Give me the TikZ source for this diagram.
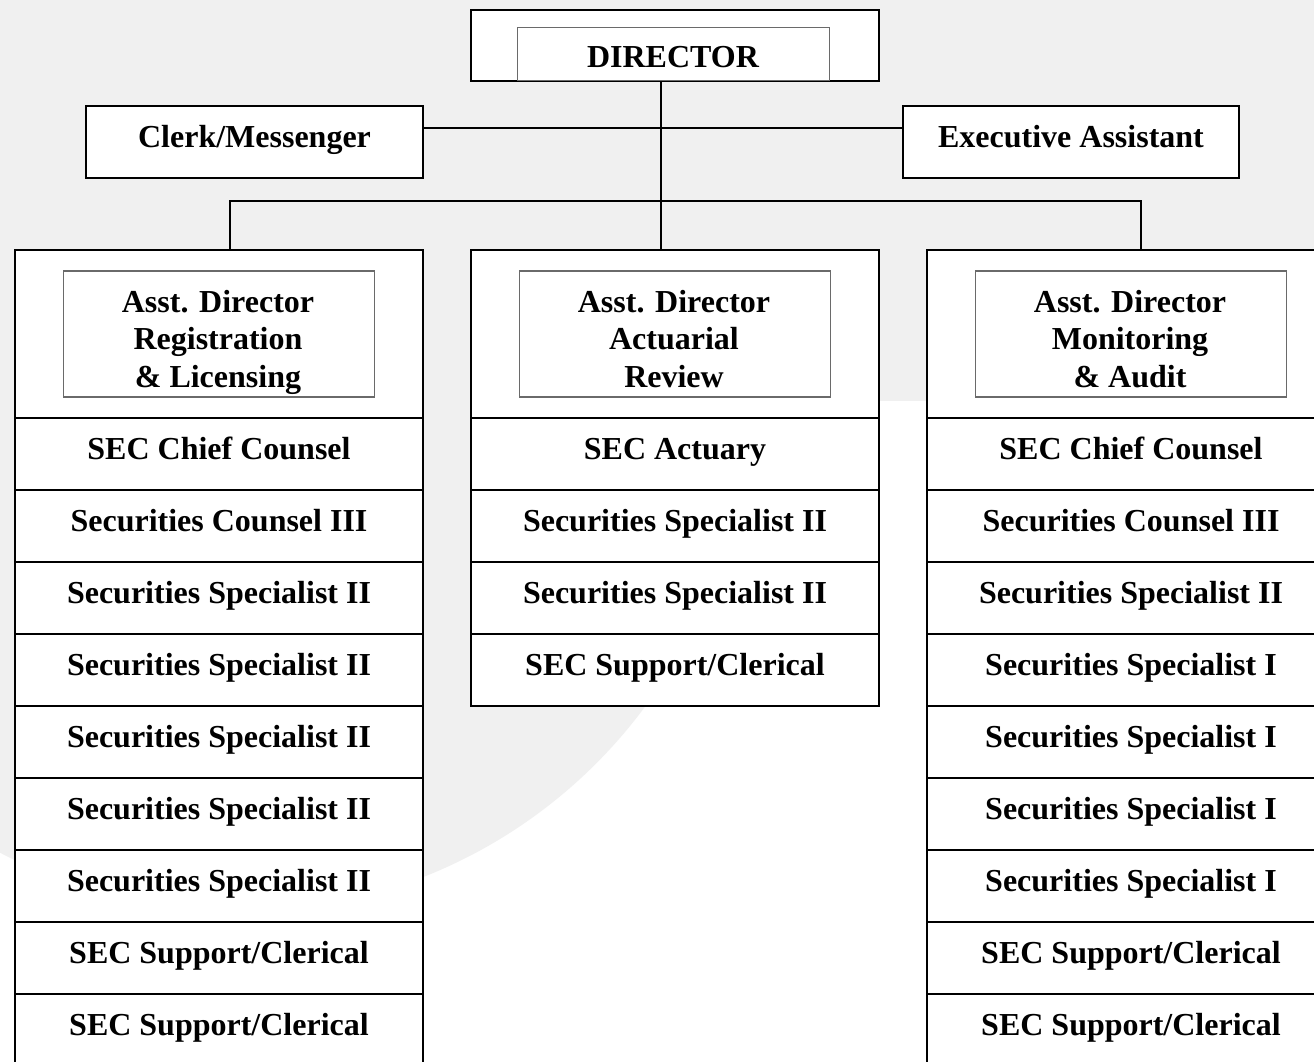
\documentclass[tikz,border=0pt]{standalone}
\usepackage{fontspec}
\setmainfont{Liberation Serif}
\usetikzlibrary{positioning, calc}

\definecolor{bggrey}{HTML}{F0F0F0}
\definecolor{framegrey}{HTML}{6A6A6A}
\newcommand{\orgfont}{\fontsize{32}{37.5}\selectfont\bfseries}

\begin{document}
\begin{tikzpicture}[x=1pt, y=-1pt,
    box/.style={draw, line width=2pt, fill=white, inner sep=0pt, anchor=north west,
        font=\orgfont, text height=21pt, text depth=11pt},
    cell/.style={box, minimum width=408pt, minimum height=72pt},
    frame/.style={draw=framegrey, line width=1.4pt, fill=white, inner sep=0pt},
    orgtext/.style={font=\orgfont, inner sep=0pt, align=center},
    wire/.style={line width=2pt}]

    % Draw the background
    \useasboundingbox (0,0) rectangle (1314,1061);
    \clip (0,0) rectangle (1314,1061);
    \fill[white] (0,0) rectangle (1314,1061);
    \fill[bggrey] (0,0) rectangle (1314,401);
    \fill[bggrey] (238,406) circle[radius=506];

    % Director
    \node[box, minimum width=408pt, minimum height=71pt] (director) at (470,9) {};
    \node[frame, anchor=north west, minimum width=312pt, minimum height=53pt] (dirframe) at (517,27) {};
    \node[orgtext, anchor=base] (dirtext) at (673,67) {DIRECTOR};

    % Staff beside the director
    \node[box, minimum width=337pt, minimum height=72pt] (clerk) at (85,105) {Clerk/Messenger};
    \node[box, minimum width=336pt, minimum height=72pt] (assistant) at (902,105) {Executive Assistant};

    % Column heads
    \foreach \col/\x/\txt in {L/14/{Asst. Director\\Registration\\\& Licensing},
                              M/470/{Asst. Director\\Actuarial\\Review},
                              R/926/{Asst. Director\\Monitoring\\\& Audit}} {
        \node[box, minimum width=408pt, minimum height=168pt] (\col head) at (\x,249) {};
        \node[frame, minimum width=311pt, minimum height=126pt] (\col frame) at (\col head.center) {};
        \node[orgtext, anchor=base] (\col txt) at ({\x+204},387) {\txt};
    }

    % Left column
    \foreach \txt [count=\i] in {SEC Chief Counsel, Securities Counsel III,
        Securities Specialist II, Securities Specialist II, Securities Specialist II,
        Securities Specialist II, Securities Specialist II,
        SEC Support/Clerical, SEC Support/Clerical}
        \node[cell] (L\i) at (14,{417+72*(\i-1)}) {\txt};

    % Middle column
    \foreach \txt [count=\i] in {SEC Actuary, Securities Specialist II,
        Securities Specialist II, SEC Support/Clerical}
        \node[cell] (M\i) at (470,{417+72*(\i-1)}) {\txt};

    % Right column
    \foreach \txt [count=\i] in {SEC Chief Counsel, Securities Counsel III,
        Securities Specialist II, Securities Specialist I, Securities Specialist I,
        Securities Specialist I, Securities Specialist I,
        SEC Support/Clerical, SEC Support/Clerical}
        \node[cell] (R\i) at (926,{417+72*(\i-1)}) {\txt};

    % Draw the connectors
    \coordinate (spine) at (661,128);
    \coordinate (bus) at (661,201);
    \coordinate (dropL) at (230,249);
    \coordinate (dropR) at (1141,249);
    \draw[wire] (director.south -| spine) -- (Mhead.north -| spine);
    \draw[wire] (clerk.east |- spine) -- (assistant.west |- spine);
    \draw[wire] (dropL) -- (dropL |- bus) -- (dropR |- bus) -- (dropR);
\end{tikzpicture}
\end{document}
